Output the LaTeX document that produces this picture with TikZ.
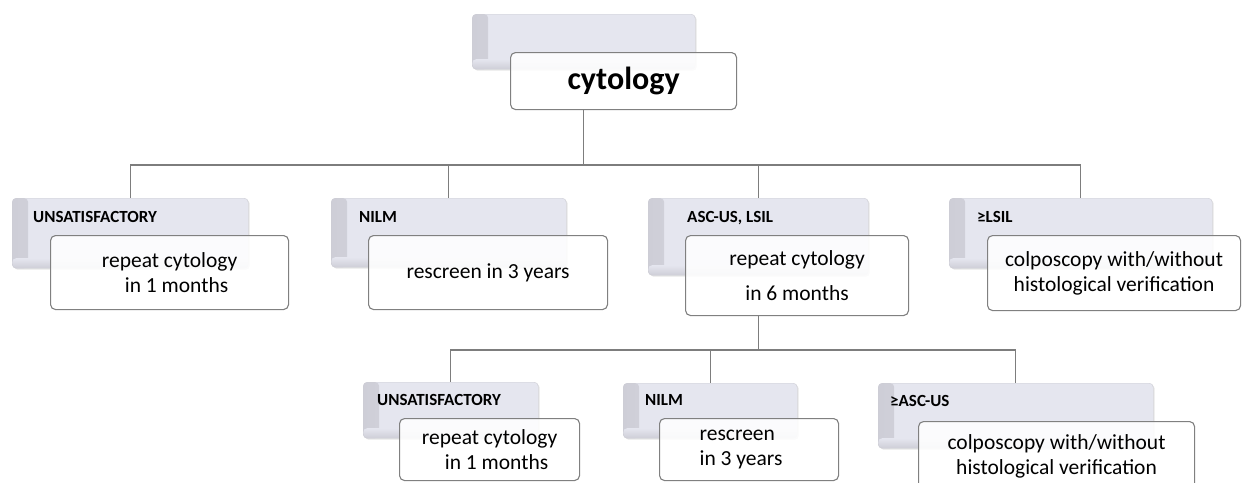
\documentclass[tikz,border=0pt]{standalone}
\usepackage{fontspec}
\setmainfont{Carlito}
\usetikzlibrary{shadows,backgrounds}

\definecolor{backfill}{RGB}{229,230,239}
\definecolor{backedge}{RGB}{205,205,212}
\definecolor{bevel}{RGB}{206,206,215}
\definecolor{frontedge}{RGB}{128,128,128}
\definecolor{linkgray}{RGB}{125,125,125}

\begin{document}
\begin{tikzpicture}[x=1pt,y=-1pt]
  \useasboundingbox (0,0) rectangle (1242,482);
  \tikzset{
    BackStyle/.style={draw=backedge, fill=backfill, rounded corners=4pt,
      anchor=north west, inner sep=0pt,
      drop shadow={opacity=0.2,shadow xshift=1.5pt,shadow yshift=-1.5pt},
      path picture={
        \shade[left color=bevel,right color=backfill]
          (path picture bounding box.north west) rectangle ([xshift=16pt]path picture bounding box.south west);
        \shade[top color=backfill,bottom color=bevel]
          ([yshift=10pt]path picture bounding box.south west) rectangle (path picture bounding box.south east);
      }},
    FrontStyle/.style={draw=frontedge, line width=1.1pt, fill=white, fill opacity=0.88,
      text opacity=1, rounded corners=5pt, anchor=north west, inner sep=0pt,
      align=center, font=\fontsize{21.5}{25}\selectfont},
    LabelStyle/.style={anchor=base west, inner sep=0pt, font=\bfseries\fontsize{17}{20}\selectfont},
    LinkStyle/.style={draw=linkgray, line width=1.3pt}
  }

  % top
  \node[BackStyle, minimum width=223, minimum height=55] (l_0) at (472,14) {};
  \node[FrontStyle, minimum width=226, minimum height=57,
        font=\bfseries\fontsize{32}{36}\selectfont] (r_0) at (510,52) {cytology};

  % first row
  \node[BackStyle, minimum width=236, minimum height=70] (l_1) at (12,198) {};
  \node[BackStyle, minimum width=235, minimum height=69] (l_2) at (331,198) {};
  \node[BackStyle, minimum width=220, minimum height=77] (l_3) at (648,198) {};
  \node[BackStyle, minimum width=263, minimum height=70] (l_4) at (949,198) {};
  \node[LabelStyle] (t_1) at (33,222) {UNSATISFACTORY};
  \node[LabelStyle] (t_2) at (359,222) {NILM};
  \node[LabelStyle] (t_3) at (687,222) {ASC-US, LSIL};
  \node[LabelStyle] (t_4) at (977,222) {≥LSIL};
  \node[FrontStyle, minimum width=238, minimum height=74] (r_1) at (50,235)
       {repeat cytology\\\hspace*{14pt}in 1 months};
  \node[FrontStyle, minimum width=239, minimum height=74] (r_2) at (368,235)
       {rescreen in 3 years};
  \node[FrontStyle, minimum width=223, minimum height=80] (r_3) at (685,235)
       {repeat cytology\\[10pt]in 6 months};
  \node[FrontStyle, minimum width=253, minimum height=75] (r_4) at (987,235)
       {colposcopy with/without\\histological verification};

  % second row
  \node[BackStyle, minimum width=175, minimum height=56] (l_5) at (363,382) {};
  \node[BackStyle, minimum width=174, minimum height=55] (l_6) at (623,383) {};
  \node[BackStyle, minimum width=275, minimum height=65] (l_7) at (878,383) {};
  \node[LabelStyle] (t_5) at (377,405) {UNSATISFACTORY};
  \node[LabelStyle] (t_6) at (645,405) {NILM};
  \node[LabelStyle] (t_7) at (890,406) {≥ASC-US};
  \node[FrontStyle, minimum width=180, minimum height=62] (r_5) at (399,418)
       {repeat cytology\\\hspace*{14pt}in 1 months};
  \node[FrontStyle, minimum width=179, minimum height=62, align=left] (r_6) at (659,418)
       {rescreen\\in 3 years\hspace*{16pt}};
  \node[FrontStyle, minimum width=276, minimum height=70] (r_7) at (918,421)
       {colposcopy with/without\\histological verification};

  \begin{scope}[on background layer]
    \coordinate (j_0) at (l_0.south |- 0,165);
    \coordinate (j_3) at (l_3.south |- 0,350);
    \draw[LinkStyle] (l_0.south |- r_0.south) -- (j_0);
    \foreach \k in {1,...,4}
      \draw[LinkStyle] (j_0) -| (l_\k.north);
    \draw[LinkStyle] (l_3.south |- r_3.south) -- (j_3);
    \foreach \k in {5,6,7}
      \draw[LinkStyle] (j_3) -| (l_\k.north);
  \end{scope}
\end{tikzpicture}
\end{document}
